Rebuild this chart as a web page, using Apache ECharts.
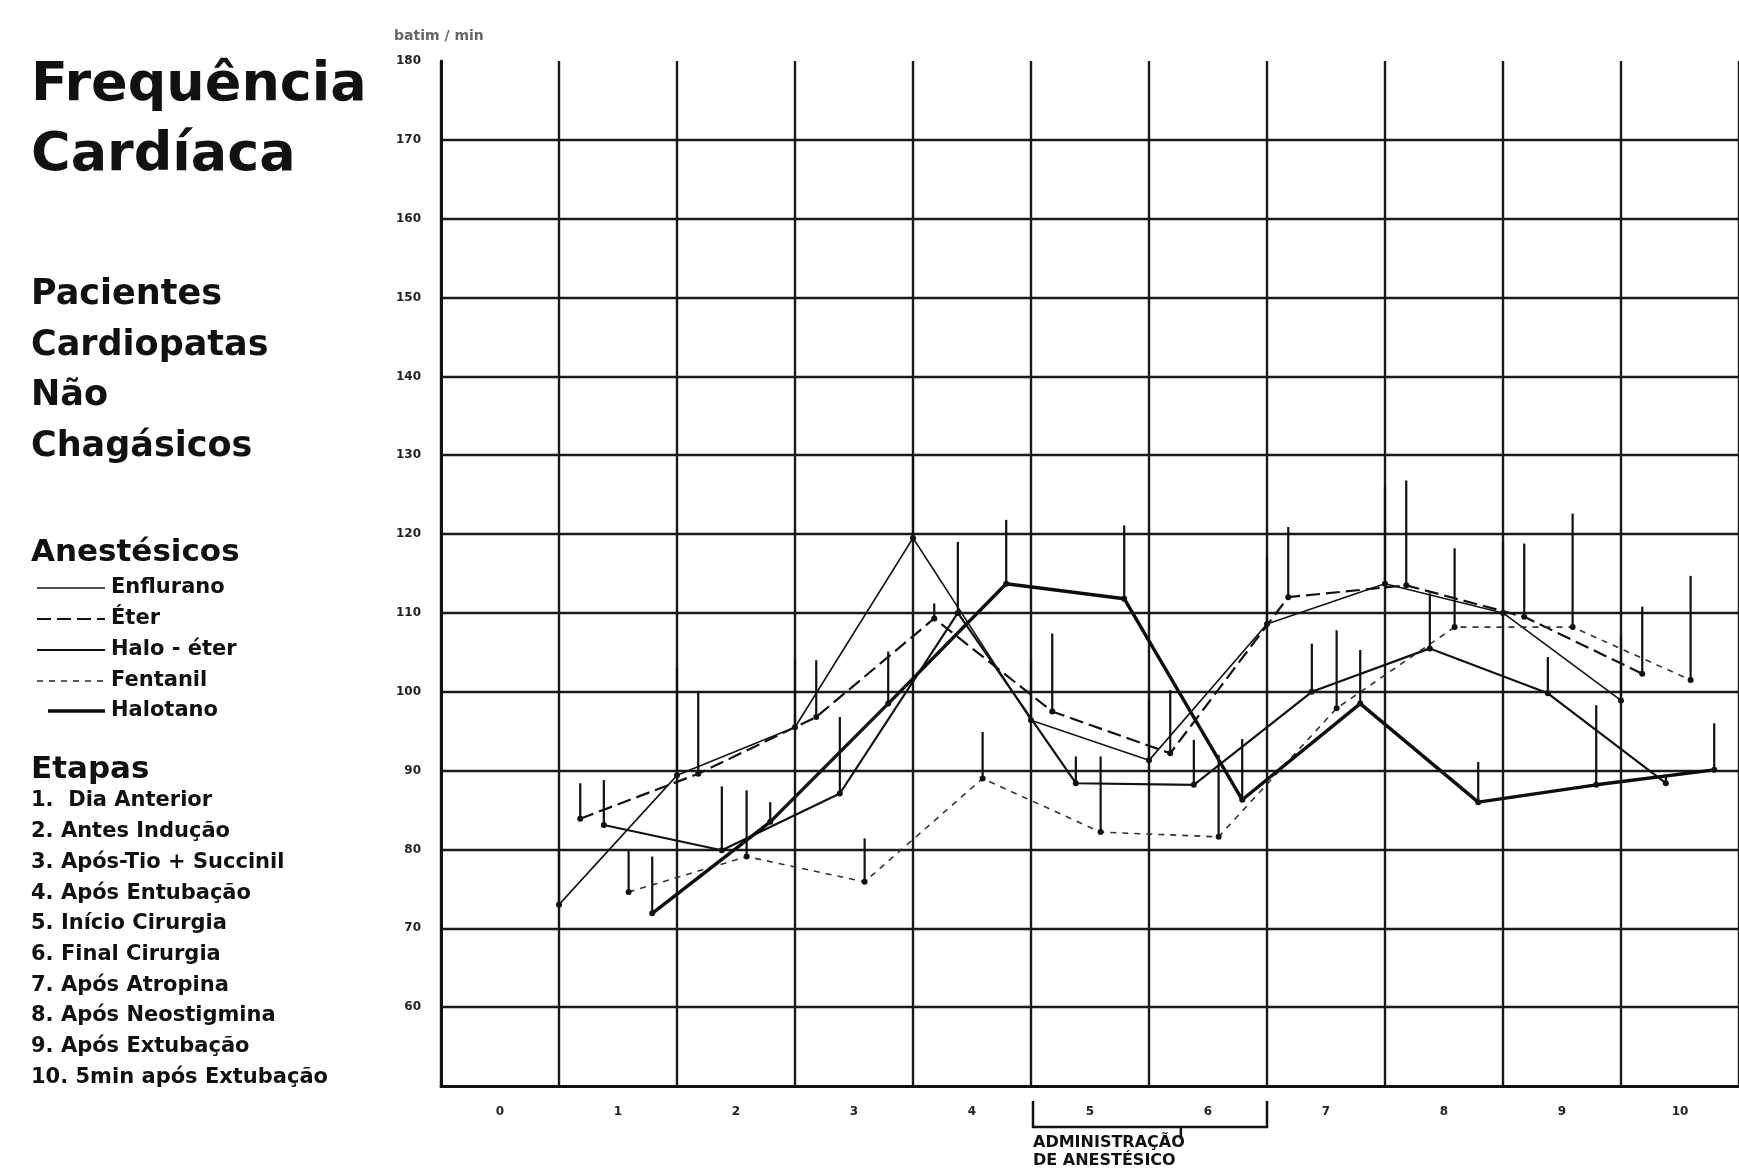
<!DOCTYPE html>
<html><head><meta charset="utf-8">
<script src="https://cdn.jsdelivr.net/npm/echarts@6/dist/echarts.min.js"></script>
<style>html,body{margin:0;padding:0;background:#fff}#c{width:1739px;height:1170px}</style>
</head><body><div id="c"></div>
<script>
// ---- data ----
const stages = [1, 2, 3, 4, 5, 6, 7, 8, 9, 10];
const stageLabels = ['0', '1', '2', '3', '4', '5', '6', '7', '8', '9', '10'];
const seriesNames = ['Enflurano', 'Éter', 'Halo - éter', 'Fentanil', 'Halotano'];
const enflurano    = [73.0, 89.4, 95.5, 119.5, 96.4, 91.3, 108.6, 113.7, 110.0, 98.9];
const enfluranoTop = [80.0, 103.0, 104.0, 130.0, 104.0, 99.0, 117.0, 126.0, 119.0, 107.0];
const eter         = [83.9, 89.6, 96.8, 109.3, 97.5, 92.2, 112.0, 113.5, 109.5, 102.3];
const eterTop      = [88.4, 100.0, 104.0, 111.2, 107.4, 100.2, 120.9, 126.8, 118.8, 110.8];
const haloEter     = [83.1, 79.9, 87.1, 110.0, 88.4, 88.2, 100.0, 105.5, 99.8, 88.4];
const haloEterTop  = [88.8, 88.0, 96.8, 119.0, 91.8, 93.9, 106.1, 112.5, 104.4, 89.5];
const fentanil     = [74.6, 79.1, 75.9, 89.0, 82.2, 81.6, 97.9, 108.2, 108.2, 101.5];
const fentanilTop  = [79.9, 87.5, 81.4, 94.9, 91.8, 92.0, 107.8, 118.2, 122.6, 114.7];
const halotano     = [71.9, 83.5, 98.5, 113.7, 111.8, 86.3, 98.5, 86.0, 88.2, 90.1];
const halotanoTop  = [79.1, 86.0, 105.1, 121.8, 121.1, 94.0, 105.3, 91.1, 98.3, 96.0];
const etapas = ['1.  Dia Anterior', '2. Antes Indução', '3. Após-Tio + Succinil', '4. Após Entubação',
  '5. Início Cirurgia', '6. Final Cirurgia', '7. Após Atropina', '8. Após Neostigmina',
  '9. Após Extubação', '10. 5min após Extubação'];

// ---- presentation ----
const values = [enflurano, eter, haloEter, fentanil, halotano];
const tops = [enfluranoTop, eterTop, haloEterTop, fentanilTop, halotanoTop];
const offsets = [0, 0.18, 0.38, 0.59, 0.79];
const INK = '#111';
const styles = [
  { width: 1.6, type: 'solid', color: '#151515' },
  { width: 2.2, type: [14, 6], color: '#111' },
  { width: 2.2, type: 'solid', color: '#111' },
  { width: 1.6, type: [6, 6], color: '#333' },
  { width: 3.4, type: 'solid', color: '#0c0c0c' }
];
const FONT = '"DejaVu Sans", "Liberation Sans", sans-serif';

const series = [];
values.forEach((vals, i) => {
  series.push({
    name: seriesNames[i], type: 'line', xAxisIndex: 0, yAxisIndex: 0,
    data: stages.map((s, j) => [s + offsets[i], vals[j]]),
    symbol: 'circle', symbolSize: 6,
    itemStyle: { color: INK },
    lineStyle: styles[i], z: 3
  });
  series.push({
    name: seriesNames[i] + ' DP', type: 'custom', xAxisIndex: 0, yAxisIndex: 0,
    data: stages.map((s, j) => [s + offsets[i], vals[j], tops[i][j]]),
    encode: { x: 0, y: [1, 2] },
    renderItem: (params, api) => {
      const p0 = api.coord([api.value(0), api.value(1)]);
      const p1 = api.coord([api.value(0), api.value(2)]);
      return { type: 'line', shape: { x1: p0[0], y1: p0[1], x2: p1[0], y2: p1[1] },
        style: { stroke: INK, lineWidth: 2.2 } };
    }, z: 4
  });
});

const chart = echarts.init(document.getElementById('c'), null, { renderer: 'canvas' });
chart.setOption({
  animation: false,
  backgroundColor: '#fff',
  grid: { left: 441, right: -8, top: 61, bottom: 84 },
  xAxis: [
    { type: 'value', min: 0, max: 11, interval: 1,
      axisLine: { show: true, onZero: false, lineStyle: { color: INK, width: 3 } },
      axisTick: { show: false }, axisLabel: { show: false },
      splitLine: { show: true, lineStyle: { color: '#1a1a1a', width: 2.4 } } },
    { type: 'category', data: stageLabels, boundaryGap: true, position: 'bottom',
      axisLine: { show: false }, axisTick: { show: false }, splitLine: { show: false },
      axisLabel: { margin: 20, fontSize: 12, fontWeight: 'bold', color: '#222', fontFamily: FONT } }
  ],
  yAxis: {
    type: 'value', min: 50, max: 180, interval: 10,
    axisLine: { show: true, lineStyle: { color: INK, width: 3 } },
    axisTick: { show: false },
    axisLabel: { margin: 20, fontSize: 12, fontWeight: 'bold', color: '#222', fontFamily: FONT,
      formatter: v => (v === 50 ? '' : String(v)) },
    splitLine: { show: true, showMinLine: false, showMaxLine: false,
      lineStyle: { color: '#1a1a1a', width: 2.4 } }
  },
  series: series
});

// ---- text panel, legend and annotation ----
const g = [];
function txt(x, y, text, font, fill) {
  g.push({ type: 'text', x: x, y: y, silent: true,
    style: { text: text, font: font, fill: fill || INK, verticalAlign: 'middle', align: 'left' } });
}
txt(31, 86, 'Frequência', 'bold 54px ' + FONT);
txt(31, 156, 'Cardíaca', 'bold 54px ' + FONT);
['Pacientes', 'Cardiopatas', 'Não', 'Chagásicos'].forEach((t, i) => txt(31, 295 + i * 50.5, t, 'bold 35px ' + FONT));
txt(31, 553, 'Anestésicos', 'bold 31px ' + FONT);
const legY = [588, 619, 650, 681, 711];
seriesNames.forEach((n, i) => {
  g.push({ type: 'line', silent: true,
    shape: { x1: i === 4 ? 48 : 37, y1: legY[i], x2: 105, y2: legY[i] },
    style: { stroke: styles[i].color, lineWidth: styles[i].width, lineDash: styles[i].type === 'solid' ? null : styles[i].type } });
  txt(111, legY[i], n, 'bold 21px ' + FONT);
});
txt(31, 770, 'Etapas', 'bold 31px ' + FONT);
etapas.forEach((t, i) => txt(31, 801 + i * 30.7, t, 'bold 21px ' + FONT));
txt(394, 36, 'batim / min', 'bold 14px ' + FONT, '#666');

const xL = chart.convertToPixel({ xAxisIndex: 0 }, 5) + 2;
const xR = chart.convertToPixel({ xAxisIndex: 0 }, 7);
const xM = chart.convertToPixel({ xAxisIndex: 0 }, 6.27);
const yTop = 1101, yBar = 1127;
g.push({ type: 'polyline', silent: true,
  shape: { points: [[xL, yTop], [xL, yBar], [xR, yBar], [xR, yTop]] },
  style: { stroke: INK, lineWidth: 2.5, fill: null } });
g.push({ type: 'line', silent: true, shape: { x1: xM, y1: yBar, x2: xM, y2: yBar + 12 },
  style: { stroke: INK, lineWidth: 2.5 } });
txt(xL, 1143, 'ADMINISTRAÇÃO', 'bold 16px ' + FONT);
txt(xL, 1161, 'DE ANESTÉSICO', 'bold 16px ' + FONT);

chart.setOption({ graphic: { elements: g } });
</script>
</body></html>
